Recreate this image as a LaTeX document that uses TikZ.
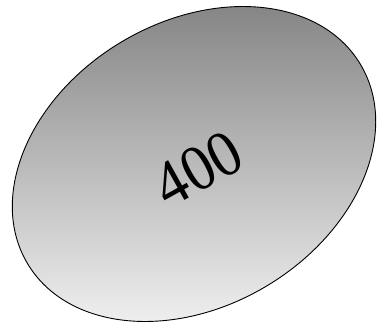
\documentclass[tikz,border=0pt]{standalone}
\usepackage{fontspec}
\setmainfont{Liberation Serif}

\begin{document}
\begin{tikzpicture}[
			x=1pt, y=1pt,
			blob/.style={
				draw=black, line width=0.9pt,
				top color=black!50, bottom color=black!4
			},
			label node/.style={font=\fontsize{60}{68}\selectfont, rotate=29, yscale=1.08}
			]
			\useasboundingbox (0,0) rectangle (378,324);
			\coordinate (c) at (194,160);
			
			\draw [blob] (c) ellipse [x radius=194, y radius=142, rotate=31];
			
			\node[label node] (val) at (198,155) {400};
			
		\end{tikzpicture}
\end{document}
